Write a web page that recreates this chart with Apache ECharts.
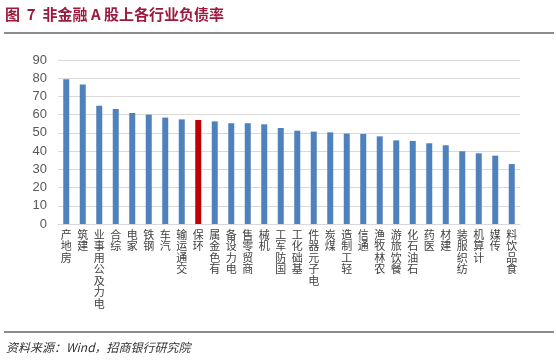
<!DOCTYPE html>
<html><head><meta charset="utf-8">
<script src="https://cdn.jsdelivr.net/npm/echarts@6/dist/echarts.min.js"></script>
<style>html,body{margin:0;padding:0;background:#fff}#c{width:556px;height:361px}</style>
</head><body><div id="c"></div>
<script>
const categories = ['房地产','建筑','电力及公用事业','综合','家电','钢铁','汽车','交通运输','环保','有色金属','电力设备','商贸零售','机械','国防军工','基础化工','电子元器件','煤炭','轻工制造','通信','农林牧渔','餐饮旅游','石油石化','医药','建材','纺织服装','计算机','传媒','食品饮料'];
const values = [79.4,76.5,64.9,63.1,60.9,60.0,58.4,57.4,57.1,56.3,55.3,55.3,54.7,52.7,51.2,50.7,50.3,49.6,49.4,48.1,45.9,45.6,44.3,43.2,39.9,38.8,37.5,32.9];
const highlight = '环保';
const yTicks = [0,10,20,30,40,50,60,70,80,90];
const titleText = '图  7  非金融 A 股上各行业负债率';
const sourceText = '资料来源：Wind，招商银行研究院';

const chart = echarts.init(document.getElementById('c'), null, {renderer:'canvas'});
chart.setOption({
  animation:false,
  backgroundColor:'#fff',
  grid:{left:58, right:36, top:60, bottom:137},
  xAxis:{
    type:'category', data:categories,
    axisLine:{lineStyle:{color:'#d9d9d9'}},
    axisTick:{show:false},
    axisLabel:{
      interval:0, color:'#404040', fontSize:11, lineHeight:11.5,
      fontFamily:'Noto Sans CJK SC', margin:5, verticalAlign:'top',
      formatter:v=>v.split('').reverse().join('\n')
    }
  },
  yAxis:{
    type:'value', min:yTicks[0], max:yTicks[yTicks.length-1], interval:10,
    axisLine:{show:false}, axisTick:{show:false},
    splitLine:{lineStyle:{color:'#d9d9d9'}},
    axisLabel:{color:'#595959', fontSize:13, margin:11, fontFamily:'Liberation Sans'}
  },
  series:[{
    type:'bar', barWidth:6,
    data:values.map((v,i)=>({value:v, itemStyle:{color: categories[i]===highlight ? '#C00000' : '#4F81BD'}}))
  }],
  graphic:[
    {type:'text', left:5, top:7, style:{text:titleText, fill:'#9C1A3C', font:'bold 15px "Noto Sans CJK SC"'}},
    {type:'rect', shape:{x:4, y:32, width:550, height:2}, style:{fill:'#8c8c8c'}},
    {type:'rect', shape:{x:4, y:331, width:550, height:2}, style:{fill:'#8c8c8c'}},
    {type:'text', left:6, top:341, style:{text:sourceText, fill:'#333', font:'italic 12px "Noto Sans CJK SC"'}}
  ]
});
</script></body></html>
